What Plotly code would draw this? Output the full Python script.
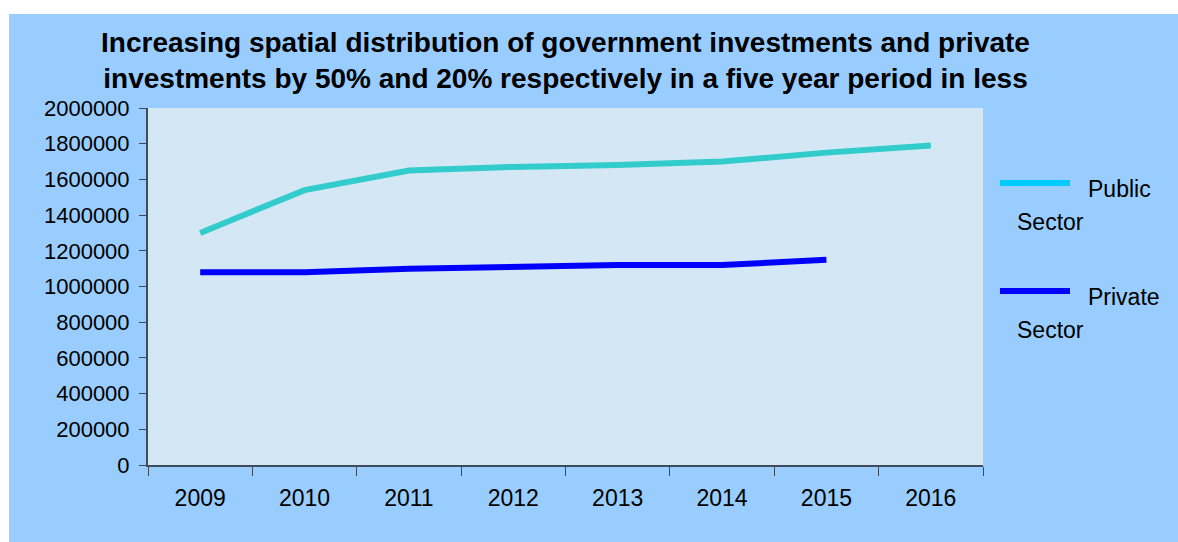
import plotly.graph_objects as go

years = ["2009", "2010", "2011", "2012", "2013", "2014", "2015", "2016"]
public_sector = [1300000, 1540000, 1650000, 1670000, 1680000, 1700000, 1750000, 1790000]
private_sector = [1080000, 1080000, 1100000, 1110000, 1120000, 1120000, 1150000, None]
series_names = ["Public Sector", "Private Sector"]
line_colors = ["#33cccc", "#0000ff"]
legend_colors = ["#00ccff", "#0000ff"]
y_ticks = list(range(0, 2000001, 200000))

W, H = 1178, 542
L, R, T, B = 148, 983, 108, 465
pw, ph = R - L, B - T
FONT = "Liberation Sans, Arial"

def px(x):
    return (x - L) / pw

def py(y):
    return (B - y) / ph

fig = go.Figure()
for name, vals, col in zip(series_names, [public_sector, private_sector], line_colors):
    fig.add_trace(go.Scatter(x=years, y=vals, name=name, mode="lines",
                             line=dict(color=col, width=6), connectgaps=False,
                             showlegend=False))

shapes = [
    dict(type="rect", xref="paper", yref="paper", x0=px(-5), x1=px(W + 5), y0=py(14), y1=py(-5),
         fillcolor="white", line=dict(width=0), layer="below"),
    dict(type="rect", xref="paper", yref="paper", x0=px(-5), x1=px(9), y0=py(H + 5), y1=py(-5),
         fillcolor="white", line=dict(width=0), layer="below"),
    dict(type="rect", xref="paper", yref="paper", x0=0, x1=1, y0=0, y1=1,
         fillcolor="#d4e7f4", line=dict(width=0), layer="below"),
]
annotations = []
leg_y = [183, 291]
for i, (name, col) in enumerate(zip(series_names, legend_colors)):
    first, second = name.split(" ")
    shapes.append(dict(type="line", xref="paper", yref="paper", x0=px(1000), x1=px(1070),
                       y0=py(leg_y[i]), y1=py(leg_y[i]), line=dict(color=col, width=6)))
    annotations.append(dict(xref="paper", yref="paper", x=px(1086), y=py(leg_y[i] + 6),
                            text=first, showarrow=False, xanchor="left", yanchor="middle",
                            font=dict(size=23, color="black", family=FONT)))
    annotations.append(dict(xref="paper", yref="paper", x=px(1015), y=py(leg_y[i] + 39),
                            text=second, showarrow=False, xanchor="left", yanchor="middle",
                            font=dict(size=23, color="black", family=FONT)))

fig.update_layout(
    width=W, height=H,
    margin=dict(l=L, r=W - R, t=T, b=H - B, pad=0),
    paper_bgcolor="#99ccff",
    plot_bgcolor="rgba(0,0,0,0)",
    font=dict(family=FONT, color="black", size=23),
    title=dict(text="<b>Increasing spatial distribution of government investments and private<br>"
                    "investments by 50% and 20% respectively in a five year period in less</b>",
               x=0.5, xanchor="center", xref="paper", y=1 - 52 / H, yanchor="middle",
               font=dict(size=28, color="black", family=FONT)),
    shapes=shapes,
    annotations=annotations,
    showlegend=False,
    xaxis=dict(type="category", range=[-0.5, 7.5], showgrid=False, zeroline=False,
               showline=True, linecolor="#3d4b5c", linewidth=2,
               ticks="outside", tickson="boundaries", ticklen=9, tickcolor="#3d4b5c",
               ticklabelstandoff=11, tickfont=dict(size=23)),
    yaxis=dict(range=[0, 2000000], tickvals=y_ticks, ticktext=[str(v) for v in y_ticks],
               showgrid=False, zeroline=False, showline=True, linecolor="#3d4b5c", linewidth=2,
               ticks="outside", ticklen=7, tickcolor="#3d4b5c", ticklabelstandoff=5,
               tickfont=dict(size=22)),
)

fig.write_html("out.html", config={"displayModeBar": False},
               post_script="document.body.style.margin='0';document.body.style.overflow='hidden';")
